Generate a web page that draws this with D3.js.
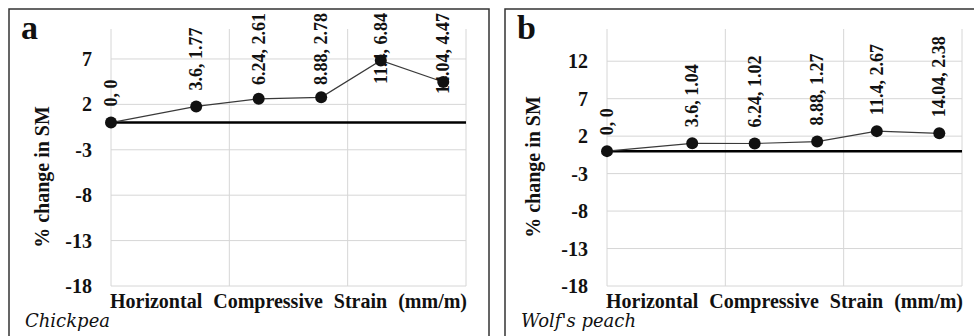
<!DOCTYPE html>
<html>
<head>
<meta charset="utf-8">
<script src="https://cdn.jsdelivr.net/npm/d3@7"></script>
<style>
  body { margin: 0; background: #fff; }
  svg { display: block; }
</style>
</head>
<body>
<div id="chart"></div>
<script>
// horizontal compressive strain (mm/m)
var strain = [0, 3.6, 6.24, 8.88, 11.4, 14.04];
// % change in soil moisture
var chickpea = [0, 1.77, 2.61, 2.78, 6.84, 4.47];
var wolfsPeach = [0, 1.04, 1.02, 1.27, 2.67, 2.38];

var xGrid = [0, 5, 10, 15];
var yTicksA = [-18, -13, -8, -3, 2, 7];
var yTicksB = [-18, -13, -8, -3, 2, 7, 12];

var SERIF = '"Liberation Serif", "Times New Roman", Times, serif';

var panels = [
  { letter: 'a', crop: 'Chickpea', values: chickpea, ticks: yTicksA, yMax: 10.3,
    box: [9, 9, 480], plot: [111, 466], titleX: 49, titleY: 177 },
  { letter: 'b', crop: "Wolf's peach", values: wolfsPeach, ticks: yTicksB, yMax: 16.3,
    box: [505, 9, 472], plot: [607, 962], titleX: 540, titleY: 167 }
];

var svg = d3.select('#chart').append('svg')
  .attr('width', 974)
  .attr('height', 336);

var plotTop = 29, plotBottom = 286;

function label(sel, size) {
  return sel.style('font-family', SERIF)
    .style('font-size', size + 'px')
    .style('font-weight', 'bold')
    .attr('fill', '#111');
}

panels.forEach(function(p) {
  var g = svg.append('g');

  g.append('rect')
    .attr('x', p.box[0])
    .attr('y', p.box[1])
    .attr('width', p.box[2])
    .attr('height', 360)
    .attr('fill', 'none')
    .attr('stroke', '#333')
    .attr('stroke-width', 1.5);

  var x = d3.scaleLinear().domain([0, 15]).range(p.plot);
  var y = d3.scaleLinear().domain([-18, p.yMax]).range([plotBottom, plotTop]);

  // gridlines
  g.selectAll('.hgrid')
    .data(p.ticks)
    .enter().append('line')
    .attr('x1', x(0)).attr('x2', x(15))
    .attr('y1', function(d) { return y(d); })
    .attr('y2', function(d) { return y(d); })
    .attr('stroke', '#d6d6d6');

  g.selectAll('.vgrid')
    .data(xGrid)
    .enter().append('line')
    .attr('x1', function(d) { return x(d); })
    .attr('x2', function(d) { return x(d); })
    .attr('y1', plotTop).attr('y2', plotBottom)
    .attr('stroke', '#d6d6d6');

  // y tick labels
  g.selectAll('.ytick')
    .data(p.ticks)
    .enter().append('text')
    .attr('x', x(0) - 19)
    .attr('y', function(d) { return y(d); })
    .attr('dy', '0.35em')
    .attr('text-anchor', 'end')
    .call(label, 20)
    .text(function(d) { return d; });

  // zero line
  g.append('line')
    .attr('x1', x(0)).attr('x2', x(15))
    .attr('y1', y(0)).attr('y2', y(0))
    .attr('stroke', '#000')
    .attr('stroke-width', 2.5);

  var pts = strain.map(function(s, i) { return { x: s, y: p.values[i] }; });

  g.append('path')
    .datum(pts)
    .attr('fill', 'none')
    .attr('stroke', '#3a3a3a')
    .attr('stroke-width', 1.2)
    .attr('d', d3.line()
      .x(function(d) { return x(d.x); })
      .y(function(d) { return y(d.y); }));

  g.selectAll('.pt')
    .data(pts)
    .enter().append('circle')
    .attr('cx', function(d) { return x(d.x); })
    .attr('cy', function(d) { return y(d.y); })
    .attr('r', 6)
    .attr('fill', '#111');

  // data labels, rotated, above the point but kept inside the frame
  g.selectAll('.lbl')
    .data(pts)
    .enter().append('text')
    .call(label, 18)
    .text(function(d) { return d.x + ', ' + d.y; })
    .attr('transform', function(d) {
      var len = this.getComputedTextLength();
      var bottom = Math.max(y(d.y) - 16, 13 + len);
      return 'translate(' + (x(d.x) + 6) + ',' + bottom + ') rotate(-90)';
    });

  // axis titles
  g.append('text')
    .attr('transform', 'translate(' + p.titleX + ',' + p.titleY + ') rotate(-90)')
    .attr('text-anchor', 'middle')
    .call(label, 20)
    .text('% change in SM');

  g.append('text')
    .attr('x', (p.plot[0] + p.plot[1]) / 2)
    .attr('y', 308)
    .attr('text-anchor', 'middle')
    .call(label, 20)
    .style('word-spacing', '6px')
    .text('Horizontal Compressive Strain (mm/m)');

  g.append('text')
    .attr('x', p.box[0] + 12)
    .attr('y', 39)
    .call(label, 34)
    .text(p.letter);

  g.append('text')
    .attr('x', p.box[0] + 16)
    .attr('y', 327)
    .style('font-family', '"DejaVu Serif", serif')
    .style('font-style', 'italic')
    .style('font-size', '18px')
    .attr('fill', '#111')
    .text(p.crop);
});
</script>
</body>
</html>
